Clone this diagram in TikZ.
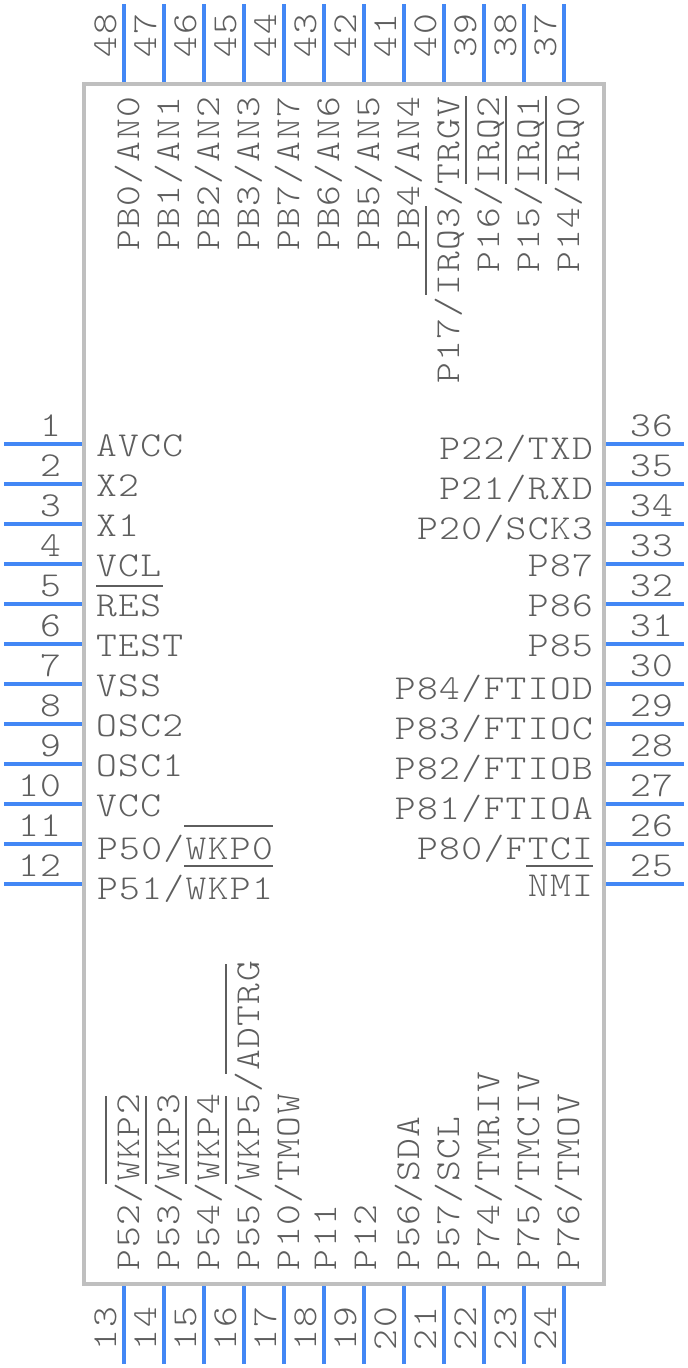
\documentclass[tikz,border=0pt]{standalone}
\usepackage{fontspec}
\usetikzlibrary{positioning}
\newfontfamily\pinfont[FakeStretch=1.13, LetterSpace=4]{Latin Modern Mono Light}
\definecolor{pinblue}{HTML}{4287F5}
\definecolor{bodygrey}{HTML}{BFBFBF}
\definecolor{textgrey}{HTML}{5E5E5E}
\tikzset{
  chip/.style={draw=bodygrey, line width=4pt, minimum width=520pt, minimum height=1200pt, inner sep=0pt, outer sep=0pt},
  pin/.style={draw=pinblue, line width=4pt},
  bar/.style={draw=textgrey, line width=2pt},
  txt/.style={text=textgrey, inner sep=0pt, outer sep=0pt, font=\pinfont\fontsize{35}{35}\selectfont},
  west/.style={txt, anchor=base west},
  east/.style={txt, anchor=base east},
  upwest/.style={txt, anchor=base west, rotate=90},
  upeast/.style={txt, anchor=base east, rotate=90}
}
\begin{document}
\begin{tikzpicture}[x=1pt, y=1pt]
\useasboundingbox (0,0) rectangle (688,-1368);
\node[chip] (body) at (344,-684) {};
% left side
\coordinate (p1) at (82,-444);
\coordinate[below=40pt of p1] (p2);
\coordinate[below=40pt of p2] (p3);
\coordinate[below=40pt of p3] (p4);
\coordinate[below=40pt of p4] (p5);
\coordinate[below=40pt of p5] (p6);
\coordinate[below=40pt of p6] (p7);
\coordinate[below=40pt of p7] (p8);
\coordinate[below=40pt of p8] (p9);
\coordinate[below=40pt of p9] (p10);
\coordinate[below=40pt of p10] (p11);
\coordinate[below=40pt of p11] (p12);
\coordinate[left=78pt of p1] (e1);
\coordinate[left=78pt of p2] (e2);
\coordinate[left=78pt of p3] (e3);
\coordinate[left=78pt of p4] (e4);
\coordinate[left=78pt of p5] (e5);
\coordinate[left=78pt of p6] (e6);
\coordinate[left=78pt of p7] (e7);
\coordinate[left=78pt of p8] (e8);
\coordinate[left=78pt of p9] (e9);
\coordinate[left=78pt of p10] (e10);
\coordinate[left=78pt of p11] (e11);
\coordinate[left=78pt of p12] (e12);
\node[above left=8pt and 21pt of p1, east] (m1) {1};
\node[above left=8pt and 21pt of p2, east] (m2) {2};
\node[above left=8pt and 21pt of p3, east] (m3) {3};
\node[above left=8pt and 21pt of p4, east] (m4) {4};
\node[above left=8pt and 21pt of p5, east] (m5) {5};
\node[above left=8pt and 21pt of p6, east] (m6) {6};
\node[above left=8pt and 21pt of p7, east] (m7) {7};
\node[above left=8pt and 21pt of p8, east] (m8) {8};
\node[above left=8pt and 21pt of p9, east] (m9) {9};
\node[above left=8pt and 21pt of p10, east] (m10) {10};
\node[above left=8pt and 21pt of p11, east] (m11) {11};
\node[above left=8pt and 21pt of p12, east] (m12) {12};
\node[below right=12pt and 14pt of p1, west] (n1) {AVCC};
\node[below right=12pt and 14pt of p2, west] (n2) {X2};
\node[below right=12pt and 14pt of p3, west] (n3) {X1};
\node[below right=12pt and 14pt of p4, west] (n4) {VCL};
\node[below right=12pt and 14pt of p5, west] (n5) {RES};
\node[below right=12pt and 14pt of p6, west] (n6) {TEST};
\node[below right=12pt and 14pt of p7, west] (n7) {VSS};
\node[below right=12pt and 14pt of p8, west] (n8) {OSC2};
\node[below right=12pt and 14pt of p9, west] (n9) {OSC1};
\node[below right=12pt and 14pt of p10, west] (n10) {VCC};
\node[below right=15pt and 15pt of p11, west] (n11) {P50/WKP0};
\node[below right=15pt and 15pt of p12, west] (n12) {P51/WKP1};
% bottom side
\coordinate (p13) at (124,-1286);
\coordinate[right=40pt of p13] (p14);
\coordinate[right=40pt of p14] (p15);
\coordinate[right=40pt of p15] (p16);
\coordinate[right=40pt of p16] (p17);
\coordinate[right=40pt of p17] (p18);
\coordinate[right=40pt of p18] (p19);
\coordinate[right=40pt of p19] (p20);
\coordinate[right=40pt of p20] (p21);
\coordinate[right=40pt of p21] (p22);
\coordinate[right=40pt of p22] (p23);
\coordinate[right=40pt of p23] (p24);
\coordinate[below=78pt of p13] (e13);
\coordinate[below=78pt of p14] (e14);
\coordinate[below=78pt of p15] (e15);
\coordinate[below=78pt of p16] (e16);
\coordinate[below=78pt of p17] (e17);
\coordinate[below=78pt of p18] (e18);
\coordinate[below=78pt of p19] (e19);
\coordinate[below=78pt of p20] (e20);
\coordinate[below=78pt of p21] (e21);
\coordinate[below=78pt of p22] (e22);
\coordinate[below=78pt of p23] (e23);
\coordinate[below=78pt of p24] (e24);
\node[below left=64pt and 8pt of p13, upwest] (m13) {13};
\node[below left=64pt and 8pt of p14, upwest] (m14) {14};
\node[below left=64pt and 8pt of p15, upwest] (m15) {15};
\node[below left=64pt and 8pt of p16, upwest] (m16) {16};
\node[below left=64pt and 8pt of p17, upwest] (m17) {17};
\node[below left=64pt and 8pt of p18, upwest] (m18) {18};
\node[below left=64pt and 8pt of p19, upwest] (m19) {19};
\node[below left=64pt and 8pt of p20, upwest] (m20) {20};
\node[below left=64pt and 8pt of p21, upwest] (m21) {21};
\node[below left=64pt and 8pt of p22, upwest] (m22) {22};
\node[below left=64pt and 8pt of p23, upwest] (m23) {23};
\node[below left=64pt and 8pt of p24, upwest] (m24) {24};
\node[above right=16pt and 15pt of p13, upwest] (n13) {P52/WKP2};
\node[above right=16pt and 15pt of p14, upwest] (n14) {P53/WKP3};
\node[above right=16pt and 15pt of p15, upwest] (n15) {P54/WKP4};
\node[above right=16pt and 15pt of p16, upwest] (n16) {P55/WKP5/ADTRG};
\node[above right=16pt and 15pt of p17, upwest] (n17) {P10/TMOW};
\node[above right=16pt and 12pt of p18, upwest] (n18) {P11};
\node[above right=16pt and 12pt of p19, upwest] (n19) {P12};
\node[above right=16pt and 15pt of p20, upwest] (n20) {P56/SDA};
\node[above right=16pt and 15pt of p21, upwest] (n21) {P57/SCL};
\node[above right=16pt and 15pt of p22, upwest] (n22) {P74/TMRIV};
\node[above right=16pt and 15pt of p23, upwest] (n23) {P75/TMCIV};
\node[above right=16pt and 15pt of p24, upwest] (n24) {P76/TMOV};
% right side
\coordinate (p25) at (606,-884);
\coordinate[above=40pt of p25] (p26);
\coordinate[above=40pt of p26] (p27);
\coordinate[above=40pt of p27] (p28);
\coordinate[above=40pt of p28] (p29);
\coordinate[above=40pt of p29] (p30);
\coordinate[above=40pt of p30] (p31);
\coordinate[above=40pt of p31] (p32);
\coordinate[above=40pt of p32] (p33);
\coordinate[above=40pt of p33] (p34);
\coordinate[above=40pt of p34] (p35);
\coordinate[above=40pt of p35] (p36);
\coordinate[right=78pt of p25] (e25);
\coordinate[right=78pt of p26] (e26);
\coordinate[right=78pt of p27] (e27);
\coordinate[right=78pt of p28] (e28);
\coordinate[right=78pt of p29] (e29);
\coordinate[right=78pt of p30] (e30);
\coordinate[right=78pt of p31] (e31);
\coordinate[right=78pt of p32] (e32);
\coordinate[right=78pt of p33] (e33);
\coordinate[right=78pt of p34] (e34);
\coordinate[right=78pt of p35] (e35);
\coordinate[right=78pt of p36] (e36);
\node[above right=8pt and 24pt of p25, west] (m25) {25};
\node[above right=8pt and 24pt of p26, west] (m26) {26};
\node[above right=8pt and 24pt of p27, west] (m27) {27};
\node[above right=8pt and 24pt of p28, west] (m28) {28};
\node[above right=8pt and 24pt of p29, west] (m29) {29};
\node[above right=8pt and 24pt of p30, west] (m30) {30};
\node[above right=8pt and 24pt of p31, west] (m31) {31};
\node[above right=8pt and 24pt of p32, west] (m32) {32};
\node[above right=8pt and 24pt of p33, west] (m33) {33};
\node[above right=8pt and 24pt of p34, west] (m34) {34};
\node[above right=8pt and 24pt of p35, west] (m35) {35};
\node[above right=8pt and 24pt of p36, west] (m36) {36};
\node[below left=12pt and 13pt of p25, east] (n25) {NMI};
\node[below left=15pt and 13pt of p26, east] (n26) {P80/FTCI};
\node[below left=15pt and 13pt of p27, east] (n27) {P81/FTIOA};
\node[below left=15pt and 13pt of p28, east] (n28) {P82/FTIOB};
\node[below left=15pt and 13pt of p29, east] (n29) {P83/FTIOC};
\node[below left=15pt and 13pt of p30, east] (n30) {P84/FTIOD};
\node[below left=12pt and 13pt of p31, east] (n31) {P85};
\node[below left=12pt and 13pt of p32, east] (n32) {P86};
\node[below left=12pt and 13pt of p33, east] (n33) {P87};
\node[below left=15pt and 13pt of p34, east] (n34) {P20/SCK3};
\node[below left=15pt and 13pt of p35, east] (n35) {P21/RXD};
\node[below left=15pt and 13pt of p36, east] (n36) {P22/TXD};
% top side
\coordinate (p37) at (564,-82);
\coordinate[left=40pt of p37] (p38);
\coordinate[left=40pt of p38] (p39);
\coordinate[left=40pt of p39] (p40);
\coordinate[left=40pt of p40] (p41);
\coordinate[left=40pt of p41] (p42);
\coordinate[left=40pt of p42] (p43);
\coordinate[left=40pt of p43] (p44);
\coordinate[left=40pt of p44] (p45);
\coordinate[left=40pt of p45] (p46);
\coordinate[left=40pt of p46] (p47);
\coordinate[left=40pt of p47] (p48);
\coordinate[above=78pt of p37] (e37);
\coordinate[above=78pt of p38] (e38);
\coordinate[above=78pt of p39] (e39);
\coordinate[above=78pt of p40] (e40);
\coordinate[above=78pt of p41] (e41);
\coordinate[above=78pt of p42] (e42);
\coordinate[above=78pt of p43] (e43);
\coordinate[above=78pt of p44] (e44);
\coordinate[above=78pt of p45] (e45);
\coordinate[above=78pt of p46] (e46);
\coordinate[above=78pt of p47] (e47);
\coordinate[above=78pt of p48] (e48);
\node[above left=25pt and 8pt of p37, upwest] (m37) {37};
\node[above left=25pt and 8pt of p38, upwest] (m38) {38};
\node[above left=25pt and 8pt of p39, upwest] (m39) {39};
\node[above left=25pt and 8pt of p40, upwest] (m40) {40};
\node[above left=25pt and 8pt of p41, upwest] (m41) {41};
\node[above left=25pt and 8pt of p42, upwest] (m42) {42};
\node[above left=25pt and 8pt of p43, upwest] (m43) {43};
\node[above left=25pt and 8pt of p44, upwest] (m44) {44};
\node[above left=25pt and 8pt of p45, upwest] (m45) {45};
\node[above left=25pt and 8pt of p46, upwest] (m46) {46};
\node[above left=25pt and 8pt of p47, upwest] (m47) {47};
\node[above left=25pt and 8pt of p48, upwest] (m48) {48};
\node[below right=15pt and 15pt of p37, upeast] (n37) {P14/IRQ0};
\node[below right=15pt and 15pt of p38, upeast] (n38) {P15/IRQ1};
\node[below right=15pt and 15pt of p39, upeast] (n39) {P16/IRQ2};
\node[below right=15pt and 15pt of p40, upeast] (n40) {P17/IRQ3/TRGV};
\node[below right=15pt and 15pt of p41, upeast] (n41) {PB4/AN4};
\node[below right=15pt and 15pt of p42, upeast] (n42) {PB5/AN5};
\node[below right=15pt and 15pt of p43, upeast] (n43) {PB6/AN6};
\node[below right=15pt and 15pt of p44, upeast] (n44) {PB7/AN7};
\node[below right=15pt and 15pt of p45, upeast] (n45) {PB3/AN3};
\node[below right=15pt and 15pt of p46, upeast] (n46) {PB2/AN2};
\node[below right=15pt and 15pt of p47, upeast] (n47) {PB1/AN1};
\node[below right=15pt and 15pt of p48, upeast] (n48) {PB0/AN0};
\draw[pin] (p1)--(e1) (p2)--(e2) (p3)--(e3) (p4)--(e4) (p5)--(e5) (p6)--(e6);
\draw[pin] (p7)--(e7) (p8)--(e8) (p9)--(e9) (p10)--(e10) (p11)--(e11) (p12)--(e12);
\draw[pin] (p13)--(e13) (p14)--(e14) (p15)--(e15) (p16)--(e16) (p17)--(e17) (p18)--(e18);
\draw[pin] (p19)--(e19) (p20)--(e20) (p21)--(e21) (p22)--(e22) (p23)--(e23) (p24)--(e24);
\draw[pin] (p25)--(e25) (p26)--(e26) (p27)--(e27) (p28)--(e28) (p29)--(e29) (p30)--(e30);
\draw[pin] (p31)--(e31) (p32)--(e32) (p33)--(e33) (p34)--(e34) (p35)--(e35) (p36)--(e36);
\draw[pin] (p37)--(e37) (p38)--(e38) (p39)--(e39) (p40)--(e40) (p41)--(e41) (p42)--(e42);
\draw[pin] (p43)--(e43) (p44)--(e44) (p45)--(e45) (p46)--(e46) (p47)--(e47) (p48)--(e48);
% active low bars
\draw[bar] (96,-586) -- (163,-586);
\draw[bar] (184,-826) -- (273,-826);
\draw[bar] (184,-866) -- (273,-866);
\draw[bar] (526,-866) -- (593,-866);
\draw[bar] (426,-206) -- (426,-295);
\draw[bar] (466,-96) -- (466,-184);
\draw[bar] (506,-96) -- (506,-184);
\draw[bar] (546,-96) -- (546,-184);
\draw[bar] (106,-1096) -- (106,-1184);
\draw[bar] (146,-1096) -- (146,-1184);
\draw[bar] (186,-1096) -- (186,-1184);
\draw[bar] (226,-1096) -- (226,-1184);
\draw[bar] (226,-964) -- (226,-1074);
\end{tikzpicture}
\end{document}
